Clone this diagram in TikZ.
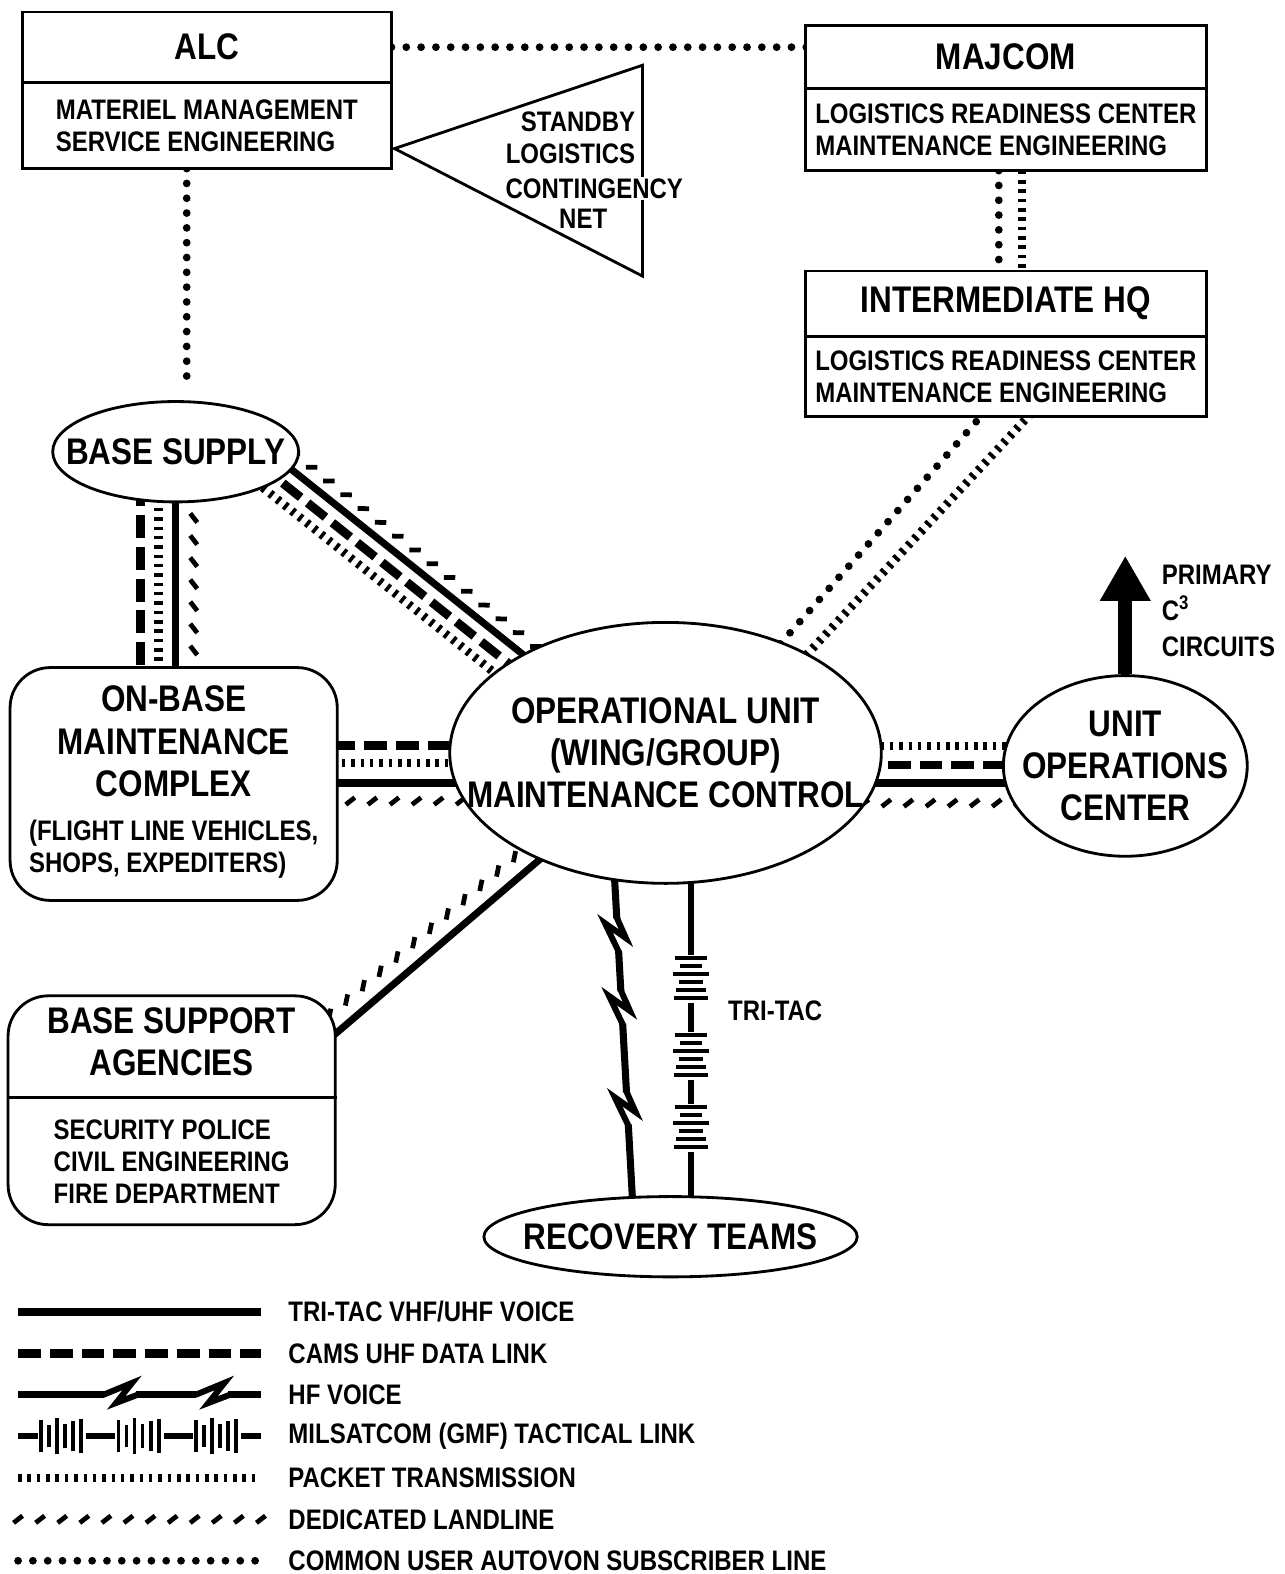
\documentclass[tikz,border=0pt]{standalone}
\usepackage{fontspec}
\setmainfont[FakeStretch=0.85]{Liberation Sans}
\usetikzlibrary{
    shapes.geometric,
    arrows.meta,
    positioning,
    calc,
    backgrounds,
    decorations.markings
}
\newcommand{\titlesize}{\fontsize{21}{24}\selectfont\bfseries}
\newcommand{\bodysize}{\fontsize{16}{18.2}\selectfont\bfseries}
\tikzset{
    % Outline width of boxes and ovals
    boxline/.style={line width=1.6pt},
    % Box header
    titlebox/.style={
        rectangle,
        draw,
        boxline,
        fill=white,
        outer sep=0pt,
        inner sep=0pt,
        font=\titlesize,
        align=center
    },
    % Box body
    bodybox/.style={
        rectangle,
        draw,
        boxline,
        fill=white,
        outer sep=0pt,
        inner sep=0pt,
        font=\bodysize,
        align=left
    },
    % Rounded box
    roundbox/.style={
        rectangle,
        rounded corners=0.8cm,
        draw,
        boxline,
        fill=white,
        inner sep=0pt,
        font=\titlesize,
        align=center
    },
    % Oval node
    ovalnode/.style={
        ellipse,
        draw,
        boxline,
        fill=white,
        inner xsep=-1cm,
        inner ysep=0pt,
        font=\titlesize,
        align=center
    },
    % Legend text
    legendtext/.style={
        font=\bodysize,
        inner sep=0pt
    },
    % Link types
    tritac/.style={line width=4pt},
    cams/.style={line width=5pt, dash pattern=on 13pt off 5pt},
    packet/.style={line width=4.8pt, dash pattern=on 2pt off 3.3pt},
    autovon/.style={line width=4.4pt, line cap=round, dash pattern=on 0pt off 8.4pt},
    landline/.style={
        draw=none,
        postaction={decorate, decoration={markings,
            mark=between positions 0 and 1 step 0.44cm with {\draw[line width=2.7pt] (-4.5,-3.5) -- (4.5,3.5);}}}
    },
    hf/.style={line width=4pt, postaction={decorate}},
    milsat/.style={line width=3.4pt, postaction={decorate}},
    % Lightning bolt on HF links
    hfbolt/.pic={
        \fill[white] (-16,-8) rectangle (16,8);
        \draw[line width=3.4pt, line join=miter] (-17,0) -- (12,12) -- (-4,-8) -- (17,0);
    },
    % Bar stack on MILSATCOM links
    milsatbars/.pic={
        \fill[white] (-24,-7) rectangle (24,7);
        \foreach \bx/\bh in {-21/16,-13/11,-5/18,3/12,11/15,19/17}
            \draw[line width=2.2pt] (\bx,-\bh) -- (\bx,\bh);
    },
    % Primary C3 arrow
    c3arrow/.style={
        line width=0.28cm,
        -{Triangle[length=0.9cm, width=0.95cm]}
    }
}

\begin{document}
\begin{tikzpicture}[x=0.02cm, y=0.02cm]

    \useasboundingbox (0,0) rectangle (1280,-1568);

    % ALC
    \node[titlebox, minimum width=7.36cm, minimum height=1.4cm] (alctitle) at (206,-47) {ALC};
    \node[bodybox, minimum width=7.36cm, minimum height=1.72cm, below=0pt of alctitle] (alcbody) {MATERIEL MANAGEMENT\\SERVICE ENGINEERING};

    % MAJCOM
    \node[titlebox, minimum width=8cm, minimum height=1.26cm] (majtitle) at (1002,-56.5) {MAJCOM};
    \node[bodybox, minimum width=8cm, minimum height=1.64cm, below=0pt of majtitle] (majbody) {LOGISTICS READINESS CENTER\\MAINTENANCE ENGINEERING};

    % Intermediate HQ
    \node[titlebox, minimum width=8cm, minimum height=1.3cm, below=2cm of majbody] (ihqtitle) {INTERMEDIATE HQ};
    \node[bodybox, minimum width=8cm, minimum height=1.6cm, below=0pt of ihqtitle] (ihqbody) {LOGISTICS READINESS CENTER\\MAINTENANCE ENGINEERING};

    % Standby net
    \draw[boxline] (393,-148) -- (640,-65) -- (640,-275) -- cycle;
    \node[font=\bodysize, align=right, anchor=east, inner sep=0pt] (standby) at (633,-137) {STANDBY\\LOGISTICS};
    \node[font=\bodysize, fill=white, inner sep=1pt] (contingency) at (592,-188) {CONTINGENCY};
    \node[font=\bodysize, inner sep=0pt] (netlabel) at (581,-218) {NET};

    % Ovals
    \node[ovalnode, minimum width=4.9cm, minimum height=2cm] (bsupply) at (175,-450) {BASE SUPPLY};
    \node[ovalnode, minimum width=8.6cm, minimum height=5.2cm] (opunit) at (663,-750) {OPERATIONAL UNIT\\(WING/GROUP)\\MAINTENANCE CONTROL};
    \node[ovalnode, minimum width=4.86cm, minimum height=3.6cm] (uoc) at (1121,-763) {UNIT\\OPERATIONS\\CENTER};
    \node[ovalnode, minimum width=7.44cm, minimum height=1.6cm] (recovery) at (668,-1232) {RECOVERY TEAMS};

    % On-base maintenance complex
    \node[roundbox, minimum width=6.52cm, minimum height=4.64cm] (onbase) at (173,-781) {ON-BASE\\MAINTENANCE\\COMPLEX\\[1pt]{\bodysize\begin{tabular}[t]{@{}l@{}}(FLIGHT LINE VEHICLES,\\SHOPS, EXPEDITERS)\end{tabular}}};

    % Base support agencies
    \node[roundbox, minimum width=6.52cm, minimum height=4.56cm] (bsa) at (171,-1106) {BASE SUPPORT\\AGENCIES\\[12pt]{\bodysize\begin{tabular}[t]{@{}l@{}}SECURITY POLICE\\CIVIL ENGINEERING\\FIRE DEPARTMENT\end{tabular}}};
    \draw[boxline] ($(bsa.west)+(0,13)$) -- ($(bsa.east)+(0,13)$);

    % Primary C3 circuits
    \coordinate (c3top) at ($(uoc.north)+(0,118)$);
    \draw[c3arrow] (uoc.north) -- (c3top);
    \node[font=\bodysize, align=left, anchor=north west, inner sep=0pt] (c3label) at (1157,-563) {PRIMARY\\[2pt]C\textsuperscript{3}\\[2pt]CIRCUITS};

    % Tri-tac label
    \node[font=\bodysize, anchor=west, inner sep=0pt] (tritaclabel) at (725,-1007) {TRI-TAC};

    \begin{scope}[on background layer]
        % ALC links
        \draw[autovon] (alctitle) -- (alctitle -| majtitle);
        \draw[autovon] ($(alcbody.south)+(-20,0)$) -- ($(bsupply.north)+(11,18)$);

        % MAJCOM to intermediate HQ
        \draw[autovon] ($(majbody.south)+(-7,0)$) -- ($(ihqtitle.north)+(-7,0)$);
        \draw[packet] ($(majbody.south)+(16,0)$) -- ($(ihqtitle.north)+(16,0)$);

        % Intermediate HQ to operational unit
        \draw[autovon] ($(ihqbody)+(-10,-23)$) -- ($(opunit)+(97,89)$);
        \draw[packet] ($(ihqbody)+(38,-23)$) -- ($(opunit)+(125,81)$);

        % Base supply to operational unit
        \path[landline] ($(bsupply)+(101,12)$) -- ($(opunit)+(-98,81)$);
        \draw[tritac] ($(bsupply)+(92,1)$) -- ($(opunit)+(-107,70)$);
        \draw[cams] ($(bsupply)+(82,-11.5)$) -- ($(opunit)+(-117,57.5)$);
        \draw[packet] ($(bsupply)+(72,-24)$) -- ($(opunit)+(-127,45)$);

        % Base supply to on-base complex
        \draw[cams] ($(bsupply)+(-35,0)$) -- ($(bsupply |- onbase)+(-35,0)$);
        \draw[packet] ($(bsupply)+(-17,0)$) -- ($(bsupply |- onbase)+(-17,0)$);
        \draw[tritac] (bsupply) -- (bsupply |- onbase);
        \path[landline] ($(bsupply)+(18,0)$) -- ($(bsupply |- onbase)+(18,0)$);

        % On-base complex to operational unit
        \draw[cams] ($(onbase |- opunit)+(0,7)$) -- ($(opunit)+(0,7)$);
        \draw[packet] ($(onbase |- opunit)+(0,-10)$) -- ($(opunit)+(0,-10)$);
        \draw[tritac] ($(onbase |- opunit)+(0,-30)$) -- ($(opunit)+(0,-30)$);
        \path[landline] ($(onbase |- opunit)+(0,-48)$) -- ($(opunit)+(0,-48)$);

        % Operational unit to unit operations center
        \draw[packet] ($(opunit)+(0,7)$) -- ($(opunit -| uoc)+(0,7)$);
        \draw[cams] ($(opunit)+(0,-12)$) -- ($(opunit -| uoc)+(0,-12)$);
        \draw[tritac] ($(opunit)+(0,-30)$) -- ($(opunit -| uoc)+(0,-30)$);
        \path[landline] ($(opunit)+(0,-50)$) -- ($(opunit -| uoc)+(0,-50)$);

        % Base support agencies to operational unit
        \draw[tritac] ($(bsa)+(136,53)$) -- ($(opunit)+(-104,-88)$);
        \path[landline] ($(bsa)+(124,67)$) -- ($(opunit)+(-116,-74)$);

        % Operational unit to recovery teams
        \draw[hf, decoration={markings,
            mark=at position 0.277 with {\pic[transform shape]{hfbolt};},
            mark=at position 0.59 with {\pic[transform shape]{hfbolt};},
            mark=at position 0.815 with {\pic[transform shape]{hfbolt};}}]
            ($(recovery.north)+(-38,-3)$) -- ($(opunit.south)+(-51,10)$);
        \draw[milsat, decoration={markings,
            mark=at position 0.318 with {\pic[transform shape]{milsatbars};},
            mark=at position 0.552 with {\pic[transform shape]{milsatbars};},
            mark=at position 0.77 with {\pic[transform shape]{milsatbars};}}]
            ($(opunit.south)+(25,10)$) -- ($(recovery.north)+(20,-8)$);
    \end{scope}

    % Legend
    \foreach \i in {1,...,7} {
        \coordinate (lgL\i) at (18,{-1307-41.3*(\i-1)});
        \coordinate (lgR\i) at (260,{-1307-41.3*(\i-1)});
    }
    \draw[tritac] (lgL1) -- (lgR1);
    \draw[cams] (lgL2) -- (lgR2);
    \draw[hf, decoration={markings,
        mark=at position 0.42 with {\pic[transform shape]{hfbolt};},
        mark=at position 0.8 with {\pic[transform shape]{hfbolt};}}] (lgL3) -- (lgR3);
    \draw[milsat, decoration={markings,
        mark=at position 0.18 with {\pic[transform shape]{milsatbars};},
        mark=at position 0.5 with {\pic[transform shape]{milsatbars};},
        mark=at position 0.82 with {\pic[transform shape]{milsatbars};}}] (lgL4) -- (lgR4);
    \draw[packet] (lgL5) -- (lgR5);
    \path[landline] (lgL6) -- (lgR6);
    \draw[autovon] (lgL7) -- (lgR7);
    \foreach \lab [count=\i] in {{TRI-TAC VHF/UHF VOICE}, {CAMS UHF DATA LINK}, {HF VOICE},
        {MILSATCOM (GMF) TACTICAL LINK}, {PACKET TRANSMISSION}, {DEDICATED LANDLINE},
        {COMMON USER AUTOVON SUBSCRIBER LINE}}
        \node[legendtext, right=0.54cm of lgR\i] (lgtext\i) {\lab};

\end{tikzpicture}
\end{document}
